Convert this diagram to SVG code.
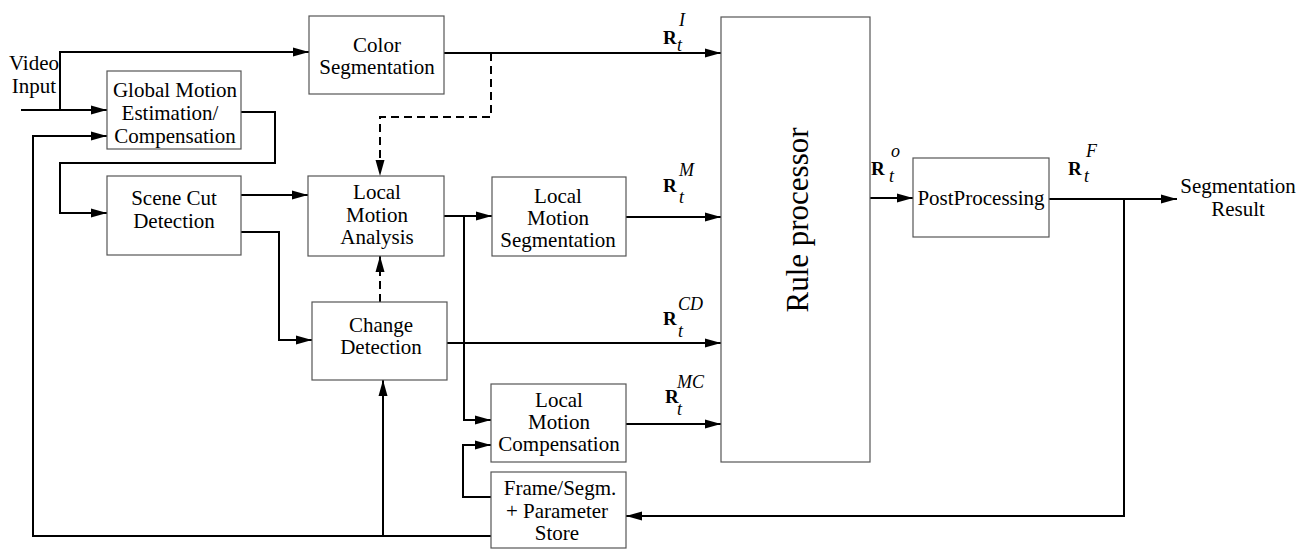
<svg xmlns="http://www.w3.org/2000/svg" width="1307" height="550" viewBox="0 0 1307 550">
<defs>
<style>
.box{fill:#fff;stroke:#555;stroke-width:1.2}
.c{fill:none;stroke:#000;stroke-width:2}
.d{fill:none;stroke:#000;stroke-width:2;stroke-dasharray:8 5}
.t{font-family:"Liberation Serif","Times New Roman",serif;font-size:21px;fill:#000;text-anchor:middle}
.R{font-family:"Liberation Serif","Times New Roman",serif;font-size:19px;font-weight:bold;fill:#000}
.s{font-family:"Liberation Serif","Times New Roman",serif;font-size:18px;font-style:italic;fill:#000}
</style>
<marker id="a" markerUnits="userSpaceOnUse" markerWidth="16" markerHeight="10" refX="16" refY="5" orient="auto">
<path d="M0,0.5 L16,5 L0,9.5 z" fill="#000"/>
</marker>
</defs>
<rect width="1307" height="550" fill="#fff"/>
<g id="connectors">
<path class="c" d="M21,110 H107" marker-end="url(#a)"/>
<path class="c" d="M60,110 V52 H309" marker-end="url(#a)"/>
<path class="c" d="M241,112 H275 V163 H60 V213 H107" marker-end="url(#a)"/>
<path class="c" d="M491,536 H33 V136 H107" marker-end="url(#a)"/>
<path class="c" d="M241,195 H308" marker-end="url(#a)"/>
<path class="c" d="M241,232 H279 V340 H312" marker-end="url(#a)"/>
<path class="c" d="M444,53 H721" marker-end="url(#a)"/>
<path class="d" d="M491,53 V117 H380 V176" marker-end="url(#a)"/>
<path class="c" d="M444,216 H492" marker-end="url(#a)"/>
<path class="c" d="M464,216 V420 H491" marker-end="url(#a)"/>
<path class="c" d="M626,217 H721" marker-end="url(#a)"/>
<path class="c" d="M447,343 H721" marker-end="url(#a)"/>
<path class="d" d="M380,302 V256" marker-end="url(#a)"/>
<path class="c" d="M383,536 V380" marker-end="url(#a)"/>
<path class="c" d="M626,424 H721" marker-end="url(#a)"/>
<path class="c" d="M491,497 H463 V445 H491" marker-end="url(#a)"/>
<path class="c" d="M870,198 H913" marker-end="url(#a)"/>
<path class="c" d="M1049,199 H1177" marker-end="url(#a)"/>
<path class="c" d="M1124,199 V516 H626" marker-end="url(#a)"/>
</g>
<g id="labels">
<text class="R" x="663" y="44">R</text><text class="s" x="679" y="26">I</text><text class="s" x="677" y="51">t</text>
<text class="R" x="663" y="192">R</text><text class="s" x="679" y="176">M</text><text class="s" x="679" y="203">t</text>
<text class="R" x="663" y="325">R</text><text class="s" x="678" y="310">CD</text><text class="s" x="678" y="337">t</text>
<text class="R" x="665" y="403">R</text><text class="s" x="677" y="388">MC</text><text class="s" x="677" y="415">t</text>
<text class="R" x="871" y="175">R</text><text class="s" x="891" y="157">o</text><text class="s" x="889" y="182">t</text>
<text class="R" x="1068" y="175">R</text><text class="s" x="1086" y="157">F</text><text class="s" x="1084" y="182">t</text>
</g>
<g id="video-input">
<text class="t" x="34" y="70">Video</text>
<text class="t" x="34" y="93">Input</text>
</g>
<g id="gme">
<rect class="box" x="107" y="71" width="134" height="78"/>
<text class="t" x="175" y="97">Global Motion</text>
<text class="t" x="170" y="120">Estimation/</text>
<text class="t" x="175" y="143">Compensation</text>
</g>
<g id="scene-cut">
<rect class="box" x="107" y="176" width="134" height="79"/>
<text class="t" x="174" y="205">Scene Cut</text>
<text class="t" x="174" y="228">Detection</text>
</g>
<g id="color-seg">
<rect class="box" x="309" y="16" width="135" height="78"/>
<text class="t" x="377" y="52">Color</text>
<text class="t" x="377" y="74">Segmentation</text>
</g>
<g id="lma">
<rect class="box" x="308" y="176" width="136" height="80"/>
<text class="t" x="377" y="199">Local</text>
<text class="t" x="377" y="222">Motion</text>
<text class="t" x="377" y="244">Analysis</text>
</g>
<g id="lms">
<rect class="box" x="492" y="177" width="134" height="79"/>
<text class="t" x="558" y="203">Local</text>
<text class="t" x="558" y="225">Motion</text>
<text class="t" x="558" y="247">Segmentation</text>
</g>
<g id="change-detection">
<rect class="box" x="312" y="302" width="135" height="78"/>
<text class="t" x="381" y="332">Change</text>
<text class="t" x="381" y="354">Detection</text>
</g>
<g id="lmc">
<rect class="box" x="491" y="384" width="135" height="78"/>
<text class="t" x="559" y="407">Local</text>
<text class="t" x="559" y="429">Motion</text>
<text class="t" x="559" y="451">Compensation</text>
</g>
<g id="frame-store">
<rect class="box" x="491" y="472" width="135" height="76"/>
<text class="t" x="560" y="495">Frame/Segm.</text>
<text class="t" x="557" y="518">+ Parameter</text>
<text class="t" x="557" y="540">Store</text>
</g>
<g id="rule-processor">
<rect class="box" x="721" y="17" width="149" height="445"/>
<text class="t" x="0" y="0" style="font-size:31px" transform="translate(808,220) rotate(-90)">Rule processor</text>
</g>
<g id="postprocessing">
<rect class="box" x="913" y="158" width="136" height="79"/>
<text class="t" x="981" y="205">PostProcessing</text>
</g>
<g id="result">
<text class="t" x="1238" y="193">Segmentation</text>
<text class="t" x="1238" y="216">Result</text>
</g>
</svg>
